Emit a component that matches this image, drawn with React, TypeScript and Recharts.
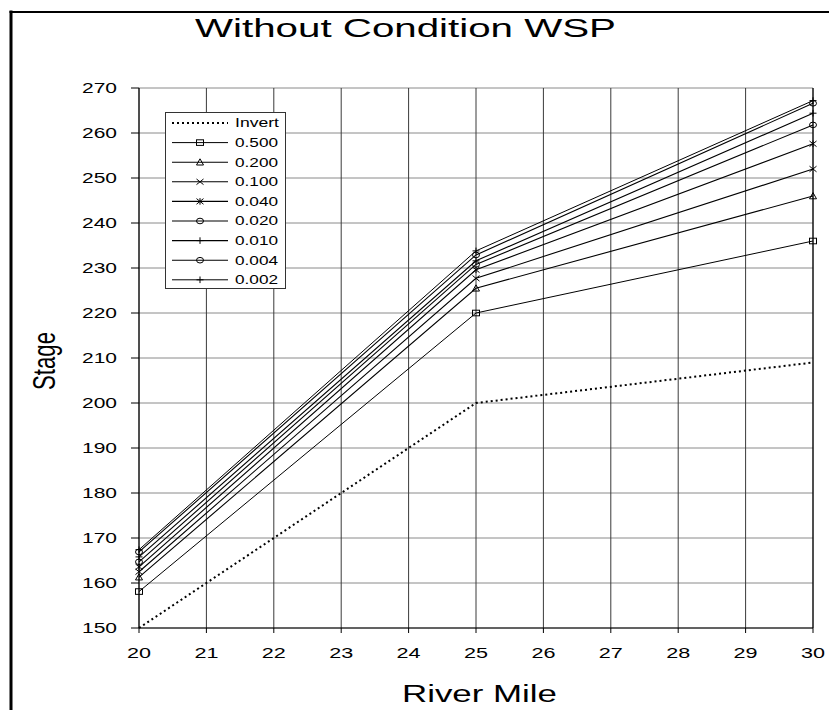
import React from 'react';
import { LineChart, Line, XAxis, YAxis, CartesianGrid, Legend, ReferenceLine } from 'recharts';

const riverMile = [20, 25, 30];
const invert = [150, 200, 209];
const q500 = [158.1, 220, 236];
const q200 = [161.3, 225.5, 246];
const q100 = [162.5, 227.7, 252];
const q040 = [163.6, 229.6, 257.6];
const q020 = [164.7, 230.8, 261.8];
const q010 = [165.8, 231.6, 264.4];
const q004 = [166.9, 232.9, 266.6];
const q002 = [167.4, 233.8, 267.2];

const xTicks = [20, 21, 22, 23, 24, 25, 26, 27, 28, 29, 30];
const yTicks = [150, 160, 170, 180, 190, 200, 210, 220, 230, 240, 250, 260, 270];

const titleText = 'Without Condition WSP';
const xLabelText = 'River Mile';
const yLabelText = 'Stage';

const FONT = '"Liberation Sans", Arial, Helvetica, sans-serif';

type Shape = 'none' | 'square' | 'triangle' | 'x' | 'star' | 'circle' | 'plus';

const seriesList: { key: string; name: string; values: number[]; shape: Shape; dash?: string; width: number; color: string }[] = [
  { key: 'invert', name: 'Invert', values: invert, shape: 'none', dash: '2 3', width: 2, color: '#000' },
  { key: 'q500', name: '0.500', values: q500, shape: 'square', width: 1, color: '#000' },
  { key: 'q200', name: '0.200', values: q200, shape: 'triangle', width: 1.1, color: '#000' },
  { key: 'q100', name: '0.100', values: q100, shape: 'x', width: 1.1, color: '#000' },
  { key: 'q040', name: '0.040', values: q040, shape: 'star', width: 1.1, color: '#000' },
  { key: 'q020', name: '0.020', values: q020, shape: 'circle', width: 1.1, color: '#000' },
  { key: 'q010', name: '0.010', values: q010, shape: 'plus', width: 1.1, color: '#000' },
  { key: 'q004', name: '0.004', values: q004, shape: 'circle', width: 1.1, color: '#000' },
  { key: 'q002', name: '0.002', values: q002, shape: 'plus', width: 1, color: '#000' },
];

const data = riverMile.map((x, i) => {
  const row: Record<string, number> = { x };
  seriesList.forEach((s) => {
    row[s.key] = s.values[i];
  });
  return row;
});

function Marker({ shape, cx, cy }: { shape: Shape; cx: number; cy: number }) {
  const w = 3.5;
  const h = 2.8;
  const common = { stroke: '#000', strokeWidth: 1, fill: 'none' };
  switch (shape) {
    case 'square':
      return <rect x={cx - w} y={cy - h} width={2 * w} height={2 * h} {...common} />;
    case 'triangle':
      return <polygon points={`${cx},${cy - h - 0.6} ${cx + w},${cy + h} ${cx - w},${cy + h}`} {...common} />;
    case 'x':
      return <path d={`M${cx - w},${cy - h}L${cx + w},${cy + h}M${cx - w},${cy + h}L${cx + w},${cy - h}`} {...common} />;
    case 'star':
      return (
        <path
          d={`M${cx - w},${cy - h}L${cx + w},${cy + h}M${cx - w},${cy + h}L${cx + w},${cy - h}M${cx},${cy - h - 0.5}L${cx},${cy + h + 0.5}`}
          {...common}
        />
      );
    case 'circle':
      return <ellipse cx={cx} cy={cy} rx={w} ry={h} {...common} />;
    case 'plus':
      return <path d={`M${cx - w},${cy}L${cx + w},${cy}M${cx},${cy - h - 0.5}L${cx},${cy + h + 0.5}`} {...common} />;
    default:
      return null;
  }
}

const makeDot = (shape: Shape, key: string) => (props: any) => {
  const { cx, cy, index } = props;
  if (shape === 'none' || cx == null || cy == null) return <g key={`${key}-${index}`} />;
  return (
    <g key={`${key}-${index}`}>
      <Marker shape={shape} cx={cx} cy={cy} />
    </g>
  );
};

const YTick = (props: any) => {
  const { x, y, payload } = props;
  return (
    <text x={x} y={y + 5.2} textAnchor="end" fontFamily={FONT} fontSize={15} fill="#000" textLength={35} lengthAdjust="spacingAndGlyphs">
      {payload.value}
    </text>
  );
};

const XTick = (props: any) => {
  const { x, y, payload } = props;
  return (
    <text x={x} y={y + 10.5} textAnchor="middle" fontFamily={FONT} fontSize={15} fill="#000" textLength={24} lengthAdjust="spacingAndGlyphs">
      {payload.value}
    </text>
  );
};

const renderLegend = (props: any) => {
  const payload = [...(props.payload || [])];
  const order = (k: any) => seriesList.findIndex((s) => s.key === k);
  payload.sort((a: any, b: any) => order(a.dataKey) - order(b.dataKey));
  return (
    <svg width={121} height={177} style={{ display: 'block' }}>
      <rect x={0.5} y={0.5} width={120} height={176} fill="#fff" stroke="#333" strokeWidth={1} />
      {payload.map((entry: any, i: number) => {
        const s = seriesList.find((ss) => ss.key === entry.dataKey);
        if (!s) return null;
        const y = 11 + i * 19.6;
        return (
          <g key={s.key}>
            <line x1={7} y1={y} x2={63} y2={y} stroke={s.color} strokeWidth={s.width} strokeDasharray={s.dash} />
            <Marker shape={s.shape} cx={35} cy={y} />
            <text x={70} y={y + 4.4} fontFamily={FONT} fontSize={12.5} fill="#000" textLength={s.name === 'Invert' ? 44 : 43} lengthAdjust="spacingAndGlyphs">
              {s.name}
            </text>
          </g>
        );
      })}
    </svg>
  );
};

export default function App() {
  return (
    <div style={{ position: 'absolute', left: 0, top: 0, width: 829, height: 710, background: '#fff', overflow: 'hidden' }}>
      <LineChart width={829} height={710} data={data} margin={{ top: 88, right: 16, bottom: 52, left: 79 }}>
        <CartesianGrid vertical={false} stroke="#8a8a8a" strokeWidth={1} />
        <CartesianGrid horizontal={false} stroke="#3a3a3a" strokeWidth={1} />
        <XAxis
          dataKey="x"
          type="number"
          domain={[20, 30]}
          ticks={xTicks}
          interval={0}
          height={30}
          tickSize={5}
          tickMargin={14}
          stroke="#000"
          axisLine={{ stroke: '#000' }}
          tickLine={{ stroke: '#000' }}
          tick={<XTick />}
        />
        <YAxis
          type="number"
          domain={[150, 270]}
          ticks={yTicks}
          interval={0}
          width={60}
          tickSize={8}
          tickMargin={14}
          stroke="#000"
          axisLine={{ stroke: '#000' }}
          tickLine={{ stroke: '#000' }}
          tick={<YTick />}
        />
        <ReferenceLine x={30} stroke="#000" strokeWidth={1} ifOverflow="extendDomain" />
        {seriesList.map((s) => (
          <Line
            key={s.key}
            dataKey={s.key}
            name={s.name}
            type="linear"
            stroke={s.color}
            strokeWidth={s.width}
            strokeDasharray={s.dash}
            dot={makeDot(s.shape, s.key)}
            activeDot={false}
            isAnimationActive={false}
          />
        ))}
        <Legend
          layout="vertical"
          align="center"
          verticalAlign="middle"
          content={renderLegend}
          wrapperStyle={{ left: 165, top: 112, width: 121, height: 177 }}
        />
      </LineChart>
      <svg width={829} height={710} style={{ position: 'absolute', left: 0, top: 0, pointerEvents: 'none' }}>
        <line x1={11} y1={10.5} x2={11} y2={720} stroke="#000" strokeWidth={3} />
        <line x1={9.5} y1={12} x2={840} y2={12} stroke="#000" strokeWidth={2} />
        <text x={195} y={37} fontFamily={FONT} fontSize={26} fill="#000" textLength={421} lengthAdjust="spacingAndGlyphs">
          {titleText}
        </text>
        <text x={402} y={702} fontFamily={FONT} fontSize={23.5} fill="#000" textLength={155} lengthAdjust="spacingAndGlyphs">
          {xLabelText}
        </text>
        <text
          x={0}
          y={0}
          transform="translate(55, 390) scale(1.5, 1) rotate(-90)"
          fontFamily={FONT}
          fontSize={21}
          fill="#000"
          textLength={58}
          lengthAdjust="spacingAndGlyphs"
        >
          {yLabelText}
        </text>
      </svg>
    </div>
  );
}
